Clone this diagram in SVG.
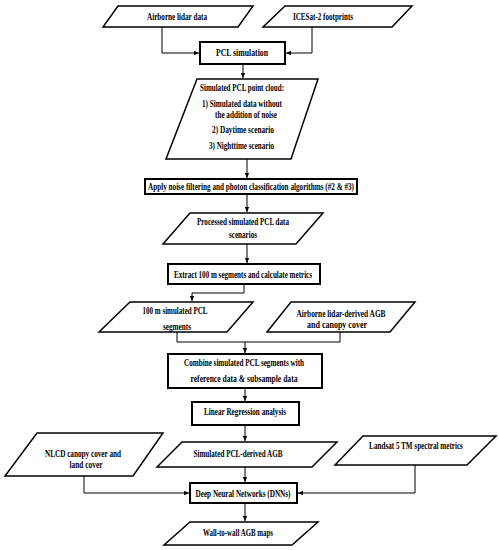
<svg xmlns="http://www.w3.org/2000/svg" width="499" height="550" viewBox="0 0 499 550">
<style>
.box{fill:#fff;stroke:#000;stroke-width:2}
.para{fill:#fff;stroke:#000;stroke-width:1.5;stroke-linejoin:miter}
.t{font-family:"Liberation Serif","Times New Roman",serif;font-weight:bold;font-size:10.5px;fill:#000;text-anchor:middle}
.c{fill:none;stroke:#000;stroke-width:1}
</style>
<defs>
<marker id="ah" markerWidth="6" markerHeight="6" refX="5" refY="3" orient="auto" markerUnits="userSpaceOnUse">
<path d="M0,0.8 L5,3 L0,5.2 Z" fill="#000"/>
</marker>
</defs>
<rect width="499" height="550" fill="#fff"/>
<g id="connectors">
<path class="c" d="M162,27 V53 H199" marker-end="url(#ah)"/>
<path class="c" d="M312,27 V53 H286" marker-end="url(#ah)"/>
<path class="c" d="M243,64 V78" marker-end="url(#ah)"/>
<path class="c" d="M247,159 V178" marker-end="url(#ah)"/>
<path class="c" d="M247,194 V212" marker-end="url(#ah)"/>
<path class="c" d="M247,244 V263" marker-end="url(#ah)"/>
<path class="c" d="M244,284 V293 H192 V301" marker-end="url(#ah)"/>
<path class="c" d="M177,332 V342 H340 V332"/>
<path class="c" d="M245,342 V353" marker-end="url(#ah)"/>
<path class="c" d="M245,388 V401" marker-end="url(#ah)"/>
<path class="c" d="M245,425 V441" marker-end="url(#ah)"/>
<path class="c" d="M84,476 V493 H189" marker-end="url(#ah)"/>
<path class="c" d="M415,465 V493 H298" marker-end="url(#ah)"/>
<path class="c" d="M245,467 V482" marker-end="url(#ah)"/>
<path class="c" d="M245,503 V521" marker-end="url(#ah)"/>
</g>
<g id="n1"><polygon class="para" points="118,6 253,6 238,27 103,27"/><text class="t" x="177" y="20" textLength="60" lengthAdjust="spacingAndGlyphs">Airborne lidar data</text></g>
<g id="n2"><polygon class="para" points="285,6 412,6 392,27 263,27"/><text class="t" x="323" y="20" textLength="60" lengthAdjust="spacingAndGlyphs">ICESat-2 footprints</text></g>
<g id="n3"><rect class="box" x="200" y="42" width="85" height="22"/><text class="t" x="242" y="56" textLength="52" lengthAdjust="spacingAndGlyphs">PCL simulation</text></g>
<g id="n4"><polygon class="para" points="197,79 318,79 291,159 166,159"/>
<text class="t" x="242" y="91" textLength="84" lengthAdjust="spacingAndGlyphs">Simulated PCL point cloud:</text>
<text class="t" x="242" y="106.5" textLength="80" lengthAdjust="spacingAndGlyphs">1) Simulated data without</text>
<text class="t" x="246" y="118" textLength="62" lengthAdjust="spacingAndGlyphs">the addition of noise</text>
<text class="t" x="243" y="133" textLength="62" lengthAdjust="spacingAndGlyphs">2) Daytime scenario</text>
<text class="t" x="241.5" y="149" textLength="65" lengthAdjust="spacingAndGlyphs">3) Nighttime scenario</text></g>
<g id="n5"><rect class="box" x="145" y="179" width="212" height="15"/><text class="t" x="251" y="190" textLength="206" lengthAdjust="spacingAndGlyphs">Apply noise filtering and photon classification algorithms  (#2 &amp; #3)</text></g>
<g id="n6"><polygon class="para" points="190,213 323,213 296,244 163,244"/>
<text class="t" x="243" y="225" textLength="92" lengthAdjust="spacingAndGlyphs">Processed simulated PCL data</text>
<text class="t" x="243" y="238" textLength="28" lengthAdjust="spacingAndGlyphs">scenarios</text></g>
<g id="n7"><rect class="box" x="168" y="264" width="152" height="20"/><text class="t" x="243" y="277.5" textLength="138" lengthAdjust="spacingAndGlyphs">Extract 100 m segments and calculate metrics</text></g>
<g id="n8"><polygon class="para" points="130,302 253,302 227,332 99,332"/>
<text class="t" x="175" y="314" textLength="65" lengthAdjust="spacingAndGlyphs">100 m simulated PCL</text>
<text class="t" x="177" y="330" textLength="28" lengthAdjust="spacingAndGlyphs">segments</text></g>
<g id="n9"><polygon class="para" points="291,302 415,302 390,332 267,332"/>
<text class="t" x="341" y="317" textLength="89" lengthAdjust="spacingAndGlyphs">Airborne lidar-derived AGB</text>
<text class="t" x="337" y="327.5" textLength="60" lengthAdjust="spacingAndGlyphs">and canopy cover</text></g>
<g id="n10"><rect class="box" x="168" y="354" width="154" height="34"/>
<text class="t" x="244" y="366" textLength="120" lengthAdjust="spacingAndGlyphs">Combine simulated PCL segments with</text>
<text class="t" x="244" y="382" textLength="107" lengthAdjust="spacingAndGlyphs">reference data &amp; subsample data</text></g>
<g id="n11"><rect class="box" x="192" y="402" width="107" height="23"/><text class="t" x="245" y="415" textLength="82" lengthAdjust="spacingAndGlyphs">Linear Regression analysis</text></g>
<g id="n12"><polygon class="para" points="182,442 337,442 312,467 157,467"/><text class="t" x="238" y="456.5" textLength="89" lengthAdjust="spacingAndGlyphs">Simulated PCL-derived AGB</text></g>
<g id="n13"><polygon class="para" points="37,433 163,433 133,476 5,476"/>
<text class="t" x="83" y="456.5" textLength="76" lengthAdjust="spacingAndGlyphs">NLCD canopy cover and</text>
<text class="t" x="86" y="468" textLength="33" lengthAdjust="spacingAndGlyphs">land cover</text></g>
<g id="n14"><polygon class="para" points="363,436 496,436 467,465 335,465"/><text class="t" transform="translate(416,448.5) scale(0.68,1)" x="0" y="0">Landsat 5 TM spectral metrics</text></g>
<g id="n15"><rect class="box" x="190" y="483" width="107" height="20"/><text class="t" x="243" y="496.5" textLength="95" lengthAdjust="spacingAndGlyphs">Deep Neural Networks (DNNs)</text></g>
<g id="n16"><polygon class="para" points="190,522 318,522 292,545 164,545"/><text class="t" x="238" y="536" textLength="70" lengthAdjust="spacingAndGlyphs">Wall-to-wall AGB maps</text></g>
</svg>
